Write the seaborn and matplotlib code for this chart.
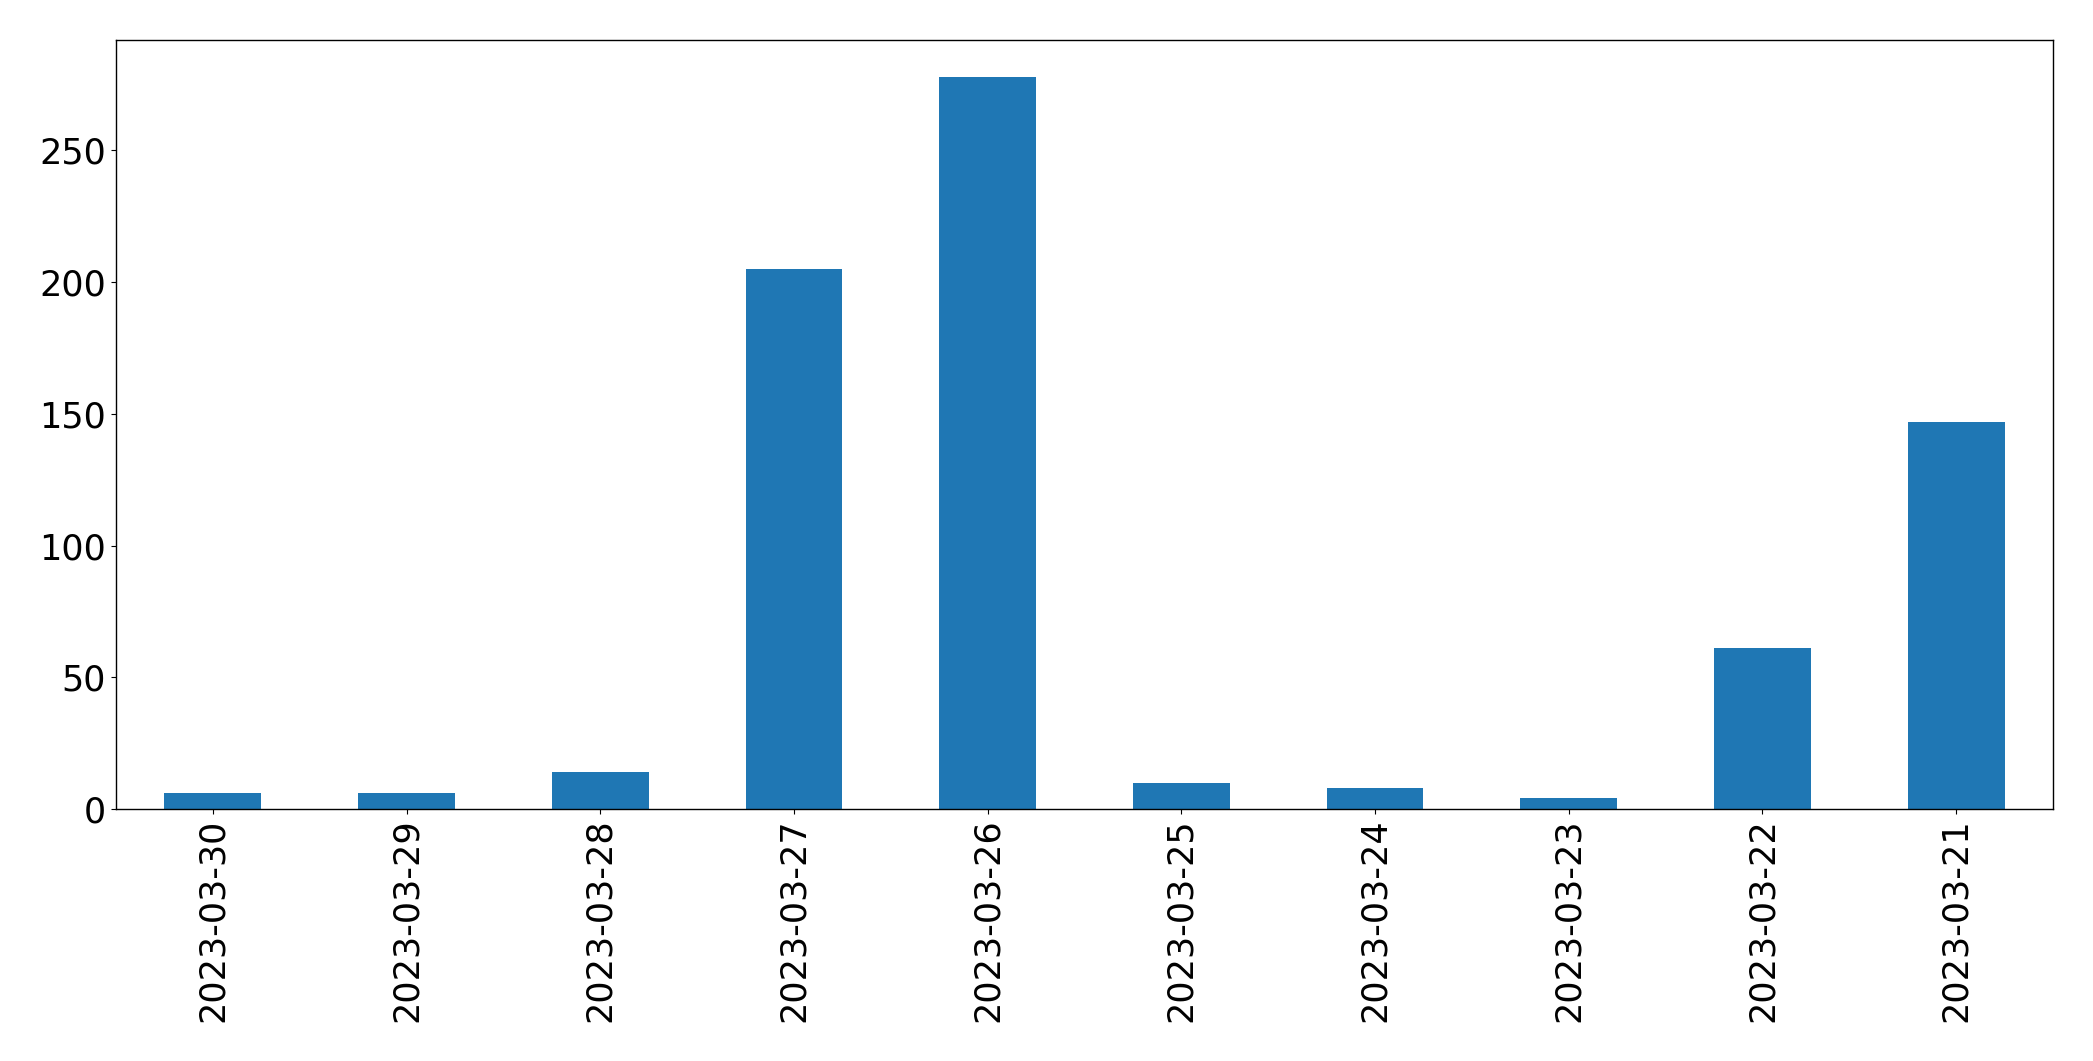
import matplotlib
matplotlib.use("Agg")
import matplotlib.pyplot as plt
import seaborn as sns
import pandas as pd

dates = ["2023-03-30", "2023-03-29", "2023-03-28", "2023-03-27", "2023-03-26",
         "2023-03-25", "2023-03-24", "2023-03-23", "2023-03-22", "2023-03-21"]
counts = [6, 6, 14, 205, 278, 10, 8, 4, 61, 147]

df = pd.DataFrame({"date": dates, "count": counts})

plt.rcParams["font.family"] = ["DejaVu Sans"]

fig = plt.figure(figsize=(20.93, 10.61), dpi=100)
ax = fig.add_axes([116 / 2093, 1 - 809 / 1061, (2053 - 116) / 2093, (809 - 40) / 1061])
sns.barplot(data=df, x="date", y="count", order=dates, color="#1f77b4",
            saturation=1, width=0.5, ax=ax)
ax.set_xlim(-0.5, len(dates) - 0.5)
ax.set_ylim(0, max(counts) * 1.05)
ax.set_xlabel("")
ax.set_ylabel("")
ax.tick_params(axis="both", labelsize=25.2, colors="black")
ax.tick_params(axis="x", rotation=90)
for s in ax.spines.values():
    s.set_visible(True)
    s.set_color("black")
    s.set_linewidth(1.0)
fig.savefig("out.png", dpi=100)
